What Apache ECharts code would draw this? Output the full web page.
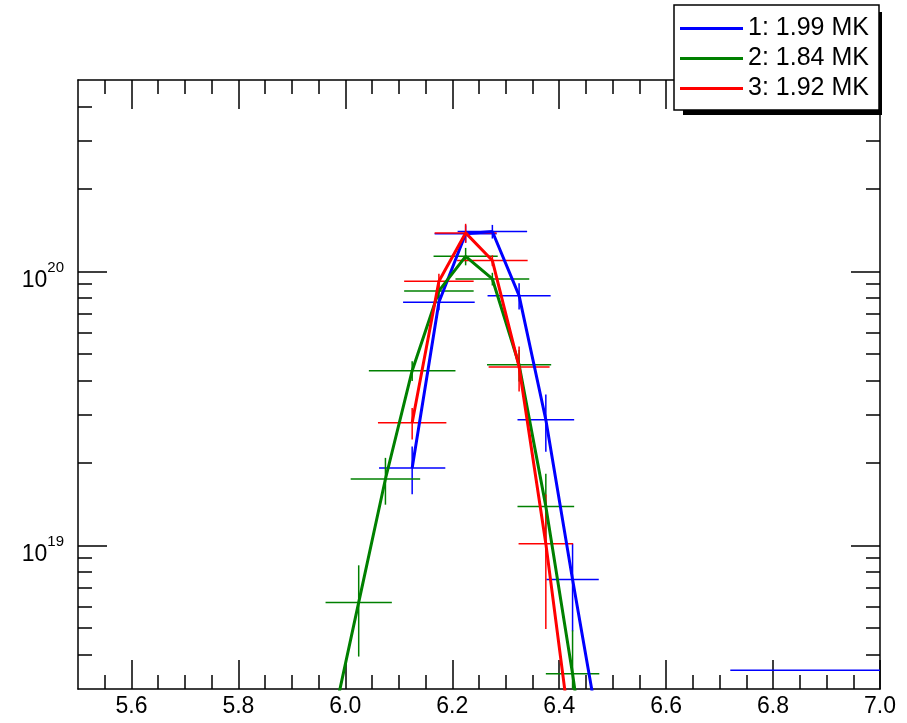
<!DOCTYPE html>
<html><head><meta charset="utf-8">
<script src="https://cdn.jsdelivr.net/npm/echarts@6/dist/echarts.min.js"></script>
<style>html,body{margin:0;padding:0;background:#fff}#c{width:907px;height:723px}</style>
</head><body><div id="c"></div><script>
const FONT = '"Liberation Sans", Arial, Helvetica, sans-serif';

// ---- data ----
const seriesNames = ['1: 1.99 MK', '2: 1.84 MK', '3: 1.92 MK'];
const seriesColors = ['#0000ff', '#008000', '#ff0000'];

const blueX    = [6.125, 6.175, 6.225, 6.275, 6.325, 6.375, 6.425, 6.475];
const blueY    = [1.92e19, 7.73e19, 1.375e20, 1.40e20, 8.17e19, 2.88e19, 7.52e18, 2.08e18];
const blueYErr = [0.38e19, 0.5e19, 0.1e20, 0.08e20, 0.9e19, 0.68e19, 2.65e18, 0.8e18];
const blueXErr = [0.062, 0.067, 0.058, 0.065, 0.059, 0.053, 0.049, 0.049];
const blueTailX = [6.86];
const blueTailY = [3.51e18];
const blueTailXErr = [0.14];
const blueTailYErr = [0];

const greenX    = [5.975, 6.025, 6.075, 6.125, 6.175, 6.225, 6.275, 6.325, 6.375, 6.425, 6.475];
const greenY    = [2.2e18, 6.21e18, 1.751e19, 4.35e19, 8.5e19, 1.137e20, 9.40e19, 4.57e19, 1.391e19, 3.41e18, 7e17];
const greenYErr = [0.5e18, 2.27e18, 3.4e18, 0.36e19, 0.5e19, 0.083e20, 0.5e19, 0.6e19, 0.44e19, 1.5e18, 0.3e18];
const greenXErr = [0.06, 0.062, 0.065, 0.081, 0.065, 0.060, 0.069, 0.060, 0.053, 0.050, 0.05];

const redX    = [6.125, 6.175, 6.225, 6.275, 6.325, 6.375, 6.425];
const redY    = [2.81e19, 9.22e19, 1.384e20, 1.097e20, 4.49e19, 1.017e19, 1.8e18];
const redYErr = [0.37e19, 0.6e19, 0.11e20, 0.05e20, 0.84e19, 0.52e19, 0.7e18];
const redXErr = [0.064, 0.065, 0.058, 0.066, 0.057, 0.051, 0.05];

// ---- axes ticks ----
const xMin = 5.5, xMax = 7.0;
const xMajor = [5.6, 5.8, 6.0, 6.2, 6.4, 6.6, 6.8, 7.0];
const xMinor = [];
for (let k = 111; k <= 140; k++) { if (k % 4 !== 0) xMinor.push(+(k * 0.05).toFixed(2)); }
const yMin = 3e18, yMax = 5e20;
const yMajor = [1e19, 1e20];
const yMinor = [4e18, 5e18, 6e18, 7e18, 8e18, 9e18,
                2e19, 3e19, 4e19, 5e19, 6e19, 7e19, 8e19, 9e19,
                2e20, 3e20, 4e20];
const L = Math.log10;

const AX = '#000';
function xAx(pos, ticks, len, showLine, labels) {
  return {
    type: 'value', position: pos, min: xMin, max: xMax,
    axisLine: { show: showLine, onZero: false, lineStyle: { color: AX, width: 1.5 } },
    axisTick: { show: true, inside: true, length: len, customValues: ticks, lineStyle: { color: AX, width: 1.5 } },
    axisLabel: labels ? { show: true, customValues: ticks, formatter: v => v.toFixed(1), fontSize: 23, color: '#000', fontFamily: FONT, margin: 6 } : { show: false },
    splitLine: { show: false }, minorTick: { show: false }, axisPointer: { show: false }
  };
}
function yAx(pos, ticks, len, showLine, labels) {
  return {
    type: 'value', position: pos, min: L(yMin), max: L(yMax),
    axisLine: { show: showLine, onZero: false, lineStyle: { color: AX, width: 1.5 } },
    axisTick: { show: true, inside: true, length: len, customValues: ticks.map(L), lineStyle: { color: AX, width: 1.5 } },
    axisLabel: labels ? {
      show: true, customValues: ticks.map(L), margin: 14, padding: [9, 0, 0, 0],
      formatter: v => '{b|10}{s|' + Math.round(v) + '}',
      rich: {
        b: { fontSize: 23, lineHeight: 32, verticalAlign: 'bottom', fontFamily: FONT, color: '#000' },
        s: { fontSize: 15, lineHeight: 13, verticalAlign: 'top', fontFamily: FONT, color: '#000' }
      }
    } : { show: false },
    splitLine: { show: false }, minorTick: { show: false }, axisPointer: { show: false }
  };
}

function renderErr(color) {
  return function (params, api) {
    const cs = params.coordSys;
    const x = api.value(0), y = api.value(1), dx = api.value(2), dy = api.value(3);
    const c = api.coord([x, y]);
    const l = api.coord([x - dx, y]), r = api.coord([x + dx, y]);
    const t = api.coord([x, y + dy]), b = api.coord([x, Math.max(y - dy, 1)]);
    const x0 = cs.x, x1 = cs.x + cs.width, y0 = cs.y, y1 = cs.y + cs.height;
    const st = { stroke: color, lineWidth: 1.5 };
    const children = [];
    if (c[1] >= y0 && c[1] <= y1) {
      const a = Math.max(l[0], x0), e = Math.min(r[0], x1);
      if (e > a) children.push({ type: 'line', shape: { x1: a, y1: c[1], x2: e, y2: c[1] }, style: st });
    }
    if (dy > 0 && c[0] >= x0 && c[0] <= x1) {
      const a = Math.max(t[1], y0), e = Math.min(b[1], y1);
      if (e > a) children.push({ type: 'line', shape: { x1: c[0], y1: a, x2: c[0], y2: e }, style: st });
    }
    return { type: 'group', children: children };
  };
}
function errSeries(id, xs, ys, xe, ye, color) {
  return {
    type: 'custom', id: id, xAxisIndex: 0, yAxisIndex: 0, silent: true, animation: false,
    data: xs.map((x, i) => [x, ys[i], xe[i], ye[i]]),
    encode: { x: 0, y: 1 },
    renderItem: renderErr(color)
  };
}
function lineSeries(name, xs, ys, color) {
  return {
    type: 'line', name: name, xAxisIndex: 0, yAxisIndex: 0, color: color,
    data: xs.map((x, i) => [x, ys[i]]),
    showSymbol: false, symbol: 'none', clip: true, silent: true, animation: false,
    lineStyle: { color: color, width: 3 }
  };
}

const chart = echarts.init(document.getElementById('c'), null, { renderer: 'canvas' });
chart.setOption({
  backgroundColor: '#fff',
  animation: false,
  grid: { left: 78, top: 80, width: 802, height: 609, containLabel: false },
  xAxis: [
    xAx('bottom', xMajor, 29, true, true),
    xAx('bottom', xMinor, 14, false, false),
    xAx('top', xMajor, 29, true, false),
    xAx('top', xMinor, 14, false, false)
  ],
  yAxis: [
    { type: 'log', logBase: 10, position: 'left', min: yMin, max: yMax,
      axisLine: { show: true, onZero: false, lineStyle: { color: AX, width: 1.5 } },
      axisTick: { show: false }, axisLabel: { show: false }, splitLine: { show: false }, minorTick: { show: false } },
    yAx('left', yMajor, 29, false, true),
    yAx('left', yMinor, 14, false, false),
    yAx('right', yMajor, 29, true, false),
    yAx('right', yMinor, 14, false, false)
  ],
  graphic: [
    { type: 'rect', z: 3, silent: true, shape: { x: 683, y: 12, width: 199, height: 103 }, style: { fill: '#000' } },
    { type: 'rect', z: 3, silent: true, shape: { x: 674, y: 5, width: 205, height: 105 }, style: { fill: '#fff', stroke: '#000', lineWidth: 1.5 } }
  ],
  legend: {
    data: seriesNames, orient: 'vertical', left: 674, top: 5, z: 5,
    padding: [11, 10, 10, 6], itemGap: 5, itemWidth: 63, itemHeight: 3, icon: 'rect',
    itemStyle: { borderWidth: 0 },
    textStyle: { fontSize: 25, lineHeight: 25, color: '#000', fontFamily: FONT },
    selectedMode: false
  },
  series: [
    errSeries('e1', blueX, blueY, blueXErr, blueYErr, seriesColors[0]),
    errSeries('e1t', blueTailX, blueTailY, blueTailXErr, blueTailYErr, seriesColors[0]),
    lineSeries(seriesNames[0], blueX, blueY, seriesColors[0]),
    errSeries('e2', greenX, greenY, greenXErr, greenYErr, seriesColors[1]),
    lineSeries(seriesNames[1], greenX, greenY, seriesColors[1]),
    errSeries('e3', redX, redY, redXErr, redYErr, seriesColors[2]),
    lineSeries(seriesNames[2], redX, redY, seriesColors[2])
  ]
});
</script></body></html>
